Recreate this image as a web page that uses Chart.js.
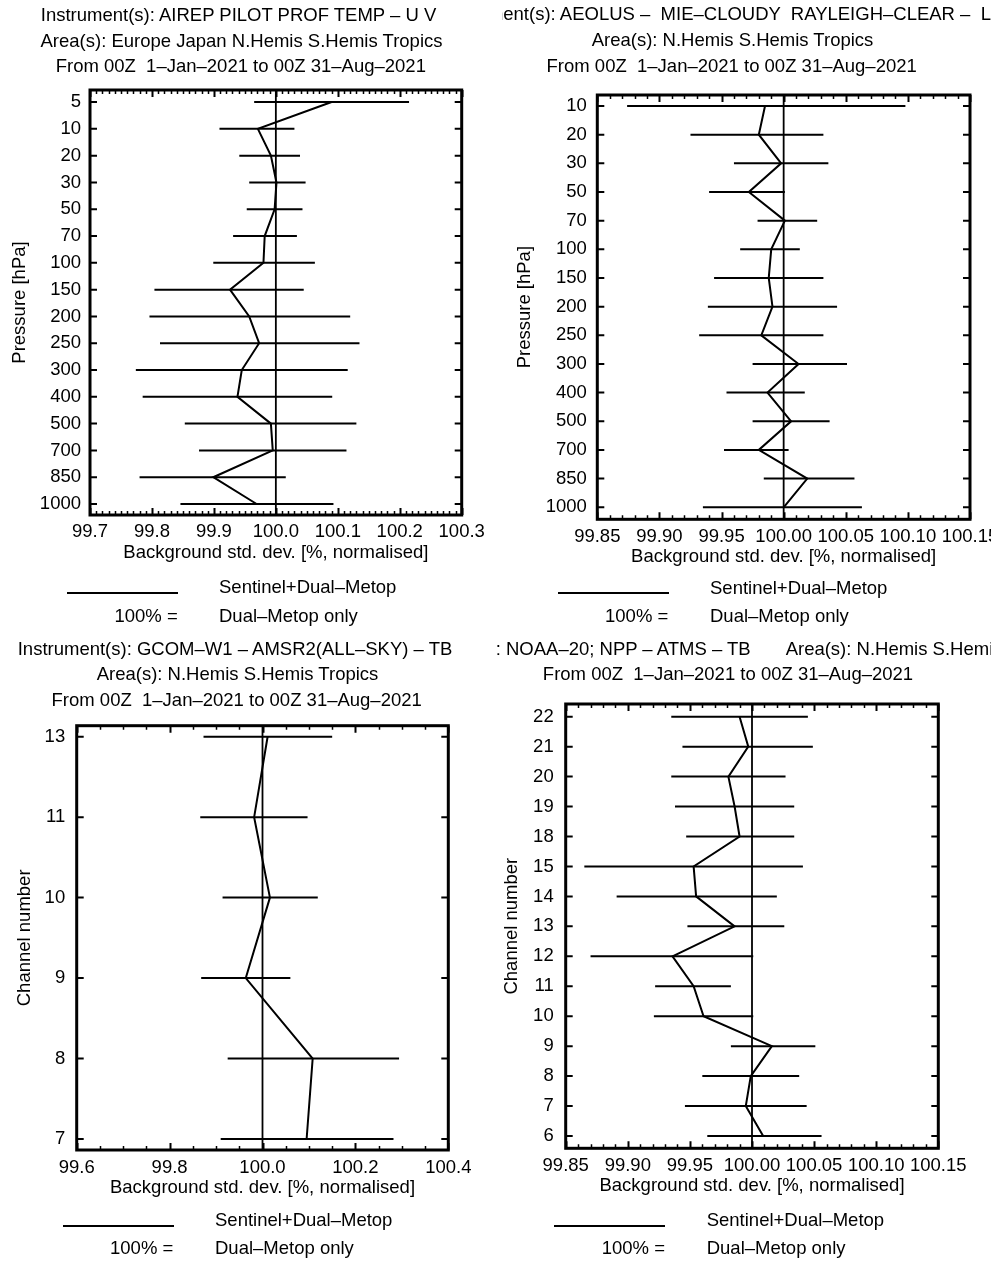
<!DOCTYPE html>
<html>
<head>
<meta charset="utf-8">
<script src="https://cdn.jsdelivr.net/npm/chart.js@4.4.1/dist/chart.umd.min.js"></script>
<style>
html, body { margin: 0; padding: 0; background: #fff; }
body {
    width: 991px; height: 1261px; position: relative; overflow: hidden;
    font-family: 'Liberation Sans', Arial, sans-serif; font-size: 18.5px; color: #000;
}
.panel { position: absolute; overflow: hidden; }
.panel canvas { position: absolute; left: 0; top: 0; }
.clip { position: absolute; top: 0; right: 0; height: 90px; overflow: hidden; }
.t { position: absolute; white-space: pre; line-height: 22px; }
.c { transform: translateX(-50%); }
.r { transform: translateX(-100%); }
.key { position: absolute; height: 2px; background: #000; }
</style>
</head>
<body>

<div class="panel" style="left:0;top:0;width:495px;height:630px">
    <canvas id="c1" width="495" height="630"></canvas>
    <div class="t c" style="left:238.5px;top:4.3px">Instrument(s): AIREP PILOT PROF TEMP – U V</div>
    <div class="t c" style="left:241.5px;top:29.9px">Area(s): Europe Japan N.Hemis S.Hemis Tropics</div>
    <div class="t c" style="left:240.8px;top:55.3px">From 00Z  1–Jan–2021 to 00Z 31–Aug–2021</div>
    <div class="key" style="left:67px;width:111px;top:592.3px"></div>
    <div class="t" style="left:219px;top:575.9px">Sentinel+Dual–Metop</div>
    <div class="t r" style="left:177.7px;top:605.3px">100% =</div>
    <div class="t" style="left:219px;top:605.3px">Dual–Metop only</div>
</div>

<div class="panel" style="left:495px;top:0;width:496px;height:630px">
    <canvas id="c2" width="496" height="630"></canvas>
    <div class="clip" style="left:7px">
        <div class="t" style="left:-60.4px;top:3.3px">Instrument(s): AEOLUS –  MIE–CLOUDY  RAYLEIGH–CLEAR –  L2B HLOS</div>
    </div>
    <div class="t c" style="left:237.5px;top:29.3px">Area(s): N.Hemis S.Hemis Tropics</div>
    <div class="t c" style="left:236.7px;top:55.3px">From 00Z  1–Jan–2021 to 00Z 31–Aug–2021</div>
    <div class="key" style="left:62.7px;width:111px;top:592.3px"></div>
    <div class="t" style="left:215px;top:576.9px">Sentinel+Dual–Metop</div>
    <div class="t r" style="left:173.3px;top:605.3px">100% =</div>
    <div class="t" style="left:215px;top:605.3px">Dual–Metop only</div>
</div>

<div class="panel" style="left:0;top:630px;width:495px;height:631px">
    <canvas id="c3" width="495" height="631"></canvas>
    <div class="t c" style="left:235px;top:7.6px">Instrument(s): GCOM–W1 – AMSR2(ALL–SKY) – TB</div>
    <div class="t c" style="left:237.5px;top:33.3px">Area(s): N.Hemis S.Hemis Tropics</div>
    <div class="t c" style="left:236.7px;top:58.6px">From 00Z  1–Jan–2021 to 00Z 31–Aug–2021</div>
    <div class="key" style="left:62.7px;width:111px;top:594.7px"></div>
    <div class="t" style="left:215px;top:579.3px">Sentinel+Dual–Metop</div>
    <div class="t r" style="left:173.3px;top:606.6px">100% =</div>
    <div class="t" style="left:215px;top:606.6px">Dual–Metop only</div>
</div>

<div class="panel" style="left:495px;top:630px;width:496px;height:631px">
    <canvas id="c4" width="496" height="631"></canvas>
    <div class="clip" style="left:2px">
        <div class="t" style="left:-110.3px;top:7.6px">Instrument(s): NOAA–20; NPP – ATMS – TB       Area(s): N.Hemis S.Hemis Tropics</div>
    </div>
    <div class="t c" style="left:233px;top:32.6px">From 00Z  1–Jan–2021 to 00Z 31–Aug–2021</div>
    <div class="key" style="left:59.3px;width:111px;top:594.7px"></div>
    <div class="t" style="left:211.7px;top:579.3px">Sentinel+Dual–Metop</div>
    <div class="t r" style="left:170px;top:606.6px">100% =</div>
    <div class="t" style="left:211.7px;top:606.6px">Dual–Metop only</div>
</div>

<script>
// --- AIREP / PILOT / PROFILER / TEMP winds, by pressure level ---
const airepLevels = ['5', '10', '20', '30', '50', '70', '100', '150', '200', '250', '300', '400', '500', '700', '850', '1000'];
const airepMean = [100.090, 99.971, 99.992, 100.001, 99.998, 99.982, 99.980, 99.926, 99.957, 99.973, 99.945, 99.938, 99.992, 99.995, 99.899, 99.969];
const airepLow = [99.965, 99.909, 99.941, 99.957, 99.953, 99.931, 99.899, 99.804, 99.796, 99.813, 99.774, 99.785, 99.853, 99.876, 99.780, 99.846];
const airepHigh = [100.215, 100.030, 100.039, 100.048, 100.043, 100.034, 100.063, 100.045, 100.120, 100.135, 100.116, 100.091, 100.130, 100.114, 100.016, 100.093];

// --- Aeolus HLOS winds ---
const aeolusLevels = ['10', '20', '30', '50', '70', '100', '150', '200', '250', '300', '400', '500', '700', '850', '1000'];
const aeolusMean = [99.985, 99.980, 99.998, 99.972, 100.001, 99.990, 99.988, 99.991, 99.982, 100.012, 99.987, 100.006, 99.980, 100.019, 100.000];
const aeolusLow = [99.874, 99.925, 99.960, 99.940, 99.979, 99.965, 99.944, 99.939, 99.932, 99.975, 99.954, 99.975, 99.952, 99.984, 99.935];
const aeolusHigh = [100.098, 100.032, 100.036, 100.001, 100.027, 100.013, 100.032, 100.043, 100.032, 100.051, 100.017, 100.037, 100.004, 100.057, 100.063];

// --- AMSR2 all-sky radiances, by channel ---
const amsr2Channels = ['13', '11', '10', '9', '8', '7'];
const amsr2Mean = [100.011, 99.982, 100.016, 99.964, 100.108, 100.095];
const amsr2Low = [99.873, 99.866, 99.914, 99.868, 99.925, 99.910];
const amsr2High = [100.150, 100.097, 100.119, 100.060, 100.294, 100.282];

// --- ATMS radiances ---
const atmsChannels = ['22', '21', '20', '19', '18', '15', '14', '13', '12', '11', '10', '9', '8', '7', '6'];
const atmsMean = [99.990, 99.997, 99.981, 99.986, 99.990, 99.953, 99.955, 99.986, 99.936, 99.953, 99.961, 100.016, 99.999, 99.995, 100.009];
const atmsLow = [99.935, 99.944, 99.935, 99.938, 99.947, 99.865, 99.891, 99.948, 99.870, 99.922, 99.921, 99.983, 99.960, 99.946, 99.964];
const atmsHigh = [100.045, 100.049, 100.027, 100.034, 100.034, 100.041, 100.020, 100.026, 100.001, 99.983, 100.001, 100.051, 100.038, 100.044, 100.056];

const REF = 100; // 100% = Dual-Metop only

Chart.defaults.font.family = "'Liberation Sans', Arial, sans-serif";
Chart.defaults.font.size = 18.5;
Chart.defaults.color = '#000';

// box round the plot with inward major/minor ticks on all four sides
const framePlugin = {
    id: 'frame',
    afterDatasetsDraw(chart, args, opts) {
        const { ctx, chartArea: a, scales: { x, y } } = chart;
        ctx.save();
        ctx.strokeStyle = '#000';
        ctx.lineCap = 'butt';

        const n = Math.round((x.max - x.min) / opts.minor);
        for (let i = 0; i <= n; i++) {
            const v = x.min + i * opts.minor;
            const r = (v - x.min) / opts.major;
            const major = Math.abs(r - Math.round(r)) < 1e-4;
            const len = major ? 7 : 4;
            const px = Math.round(x.getPixelForValue(v)) + 0.5;
            ctx.lineWidth = major ? 2 : 1.5;
            ctx.beginPath();
            ctx.moveTo(px, a.bottom); ctx.lineTo(px, a.bottom - len);
            ctx.moveTo(px, a.top); ctx.lineTo(px, a.top + len);
            ctx.stroke();
        }

        ctx.lineWidth = 2;
        ctx.beginPath();
        y.ticks.forEach(t => {
            const py = y.getPixelForValue(t.value);
            ctx.moveTo(a.left, py); ctx.lineTo(a.left + 7, py);
            ctx.moveTo(a.right, py); ctx.lineTo(a.right - 7, py);
        });
        ctx.stroke();

        ctx.lineWidth = 3;
        ctx.strokeRect(a.left, a.top, a.right - a.left, a.bottom - a.top);
        ctx.restore();
    }
};

function profileChart(p) {
    const [L, R, T, B] = p.area;
    const canvas = document.getElementById(p.id);
    const W = canvas.width, H = canvas.height;

    // error bars: one segment per level, broken by null points
    const bars = [];
    p.labels.forEach((_, i) => {
        bars.push({ x: p.low[i], y: i }, { x: p.high[i], y: i }, { x: null, y: null });
    });
    const profile = p.mean.map((v, i) => ({ x: v, y: i }));
    const refLine = [{ x: REF, y: p.yRange[0] }, { x: REF, y: p.yRange[1] }];

    const [xMin, xMax, xStep, xMinor, xDec] = p.xAxis;

    return new Chart(canvas, {
        type: 'line',
        data: {
            datasets: [
                { data: refLine, borderColor: '#000', borderWidth: 1.8, pointRadius: 0 },
                { data: bars, borderColor: '#000', borderWidth: 2, pointRadius: 0, spanGaps: false },
                { data: profile, borderColor: '#000', borderWidth: 2, pointRadius: 0, tension: 0 }
            ]
        },
        options: {
            responsive: false,
            animation: false,
            events: [],
            layout: { padding: { left: 0, top: T, right: W - R, bottom: 0 } },
            plugins: {
                legend: { display: false },
                title: { display: false },
                tooltip: { enabled: false },
                frame: { major: xStep, minor: xMinor }
            },
            scales: {
                x: {
                    type: 'linear',
                    position: 'bottom',
                    min: xMin,
                    max: xMax,
                    grid: { display: false, drawTicks: false },
                    border: { display: false },
                    ticks: {
                        autoSkip: false,
                        maxRotation: 0,
                        minRotation: 0,
                        padding: p.xPad,
                        callback: v => v.toFixed(xDec)
                    },
                    title: {
                        display: true,
                        text: 'Background std. dev. [%, normalised]',
                        padding: { top: 0, bottom: p.xTitlePad }
                    },
                    afterBuildTicks: axis => {
                        const n = Math.round((xMax - xMin) / xStep);
                        const ticks = [];
                        for (let i = 0; i <= n; i++) ticks.push({ value: +(xMin + i * xStep).toFixed(4) });
                        axis.ticks = ticks;
                    },
                    afterFit: axis => {
                        axis.height = H - B;
                        axis.paddingLeft = 0;
                        axis.paddingRight = 0;
                    }
                },
                y: {
                    type: 'linear',
                    position: 'left',
                    reverse: true,
                    min: p.yRange[0],
                    max: p.yRange[1],
                    grid: { display: false, drawTicks: false },
                    border: { display: false },
                    ticks: {
                        autoSkip: false,
                        padding: p.yPad,
                        callback: v => p.labels[v]
                    },
                    title: {
                        display: true,
                        text: p.yTitle,
                        padding: { top: p.yTitlePad, bottom: 0 }
                    },
                    afterBuildTicks: axis => {
                        axis.ticks = p.labels.map((_, i) => ({ value: i }));
                    },
                    afterFit: axis => {
                        axis.width = L;
                        axis.paddingTop = 0;
                        axis.paddingBottom = 0;
                    }
                }
            }
        },
        plugins: [framePlugin]
    });
}

profileChart({
    id: 'c1', labels: airepLevels, mean: airepMean, low: airepLow, high: airepHigh,
    yTitle: 'Pressure [hPa]', xAxis: [99.7, 100.3, 0.1, 0.01, 1],
    area: [90, 461.7, 90, 515], yRange: [-0.45, 15.41],
    xPad: 5.6, xTitlePad: 65.6, yPad: 9, yTitlePad: 8.4
});

profileChart({
    id: 'c2', labels: aeolusLevels, mean: aeolusMean, low: aeolusLow, high: aeolusHigh,
    yTitle: 'Pressure [hPa]', xAxis: [99.85, 100.15, 0.05, 0.01, 2],
    area: [102.3, 475, 95, 519.3], yRange: [-0.384, 14.42],
    xPad: 6.6, xTitlePad: 61.9, yPad: 10.5, yTitlePad: 18.6
});

profileChart({
    id: 'c3', labels: amsr2Channels, mean: amsr2Mean, low: amsr2Low, high: amsr2High,
    yTitle: 'Channel number', xAxis: [99.6, 100.4, 0.2, 0.05, 1],
    area: [76.7, 448.3, 95.7, 520], yRange: [-0.137, 5.137],
    xPad: 6.9, xTitlePad: 61.6, yPad: 11.5, yTitlePad: 13.4
});

profileChart({
    id: 'c4', labels: atmsChannels, mean: atmsMean, low: atmsLow, high: atmsHigh,
    yTitle: 'Channel number', xAxis: [99.85, 100.15, 0.05, 0.01, 2],
    area: [70.7, 443.3, 74, 518.3], yRange: [-0.424, 14.41],
    xPad: 6.6, xTitlePad: 63.6, yPad: 12, yTitlePad: 5.6
});
</script>
</body>
</html>
